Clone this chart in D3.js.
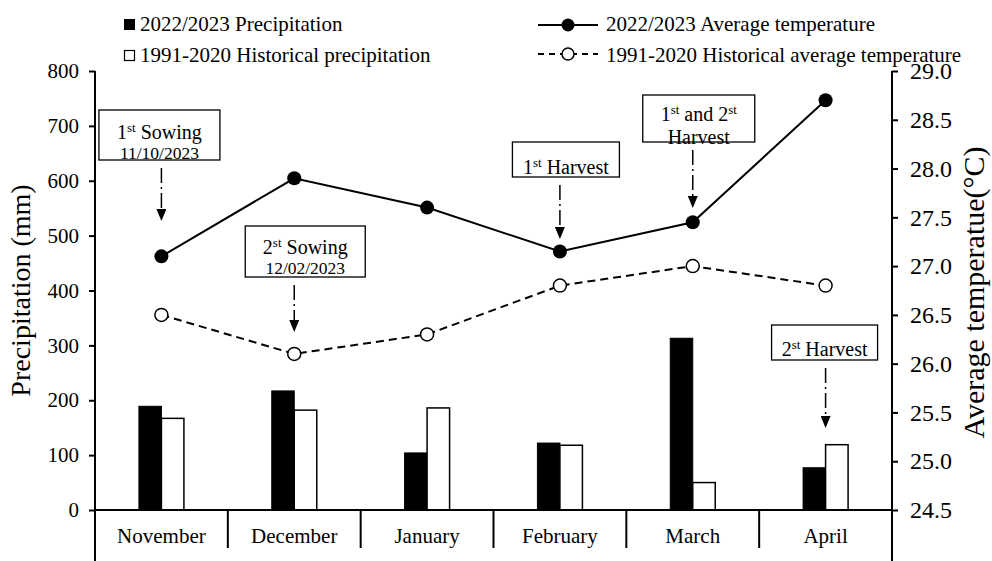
<!DOCTYPE html>
<html>
<head>
<meta charset="utf-8">
<script src="https://cdn.jsdelivr.net/npm/d3@7"></script>
<style>
  body { margin: 0; background: #fff; }
  svg { display: block; font-family: "Liberation Serif", "Times New Roman", serif; }
</style>
</head>
<body>
<div id="chart"></div>
<script>

// data
const months = ["November", "December", "January", "February", "March", "April"];
const precip2223 = [189, 217, 104, 122, 313, 77];
const precipHist = [167, 182, 186, 118, 50, 119];
const temp2223 = [27.1, 27.9, 27.6, 27.15, 27.45, 28.7];
const tempHist = [26.5, 26.1, 26.3, 26.8, 27.0, 26.8];
const precipTicks = [0, 100, 200, 300, 400, 500, 600, 700, 800];
const tempTicks = [24.5, 25.0, 25.5, 26.0, 26.5, 27.0, 27.5, 28.0, 28.5, 29.0];

// annotation boxes (text + month they point at)
const notes = [
  { month: "November", lines: [["1", "st", " Sowing"], ["11/10/2023"]] },
  { month: "December", lines: [["2", "st", " Sowing"], ["12/02/2023"]] },
  { month: "February", lines: [["1", "st", " Harvest"]] },
  { month: "March", lines: [["1", "st", " and 2", "st"], ["Harvest"]] },
  { month: "April", lines: [["2", "st", " Harvest"]] }
];
// box geometry for the notes, same order
const noteBoxes = [
  { dx: -2, w: 121, top: 110, h: 50, base: [22, 42], tip: 221 },
  { dx: 11, w: 120, top: 226, h: 51, base: [21, 41], tip: 332 },
  { dx: 6, w: 107, top: 142, h: 35, base: [25], tip: 239 },
  { dx: 6, w: 112, top: 95, h: 47, base: [19, 42], tip: 208 },
  { dx: -1, w: 106, top: 325, h: 35, base: [24], tip: 428 }
];

const W = 992, H = 561;
const plot = { left: 95, right: 892, top: 71, bottom: 510 };
const FONT = "Liberation Serif, Times New Roman, serif";

const svg = d3.select("#chart").append("svg")
  .attr("width", W)
  .attr("height", H)
  .attr("font-family", FONT);

const x = d3.scaleBand().domain(months).range([plot.left, plot.right]).padding(0);
const bw = x.bandwidth();
const xs = d3.scaleBand().domain(["cur", "hist"]).range([bw / 2 - 22.5, bw / 2 + 22.5]).padding(0);
const yP = d3.scaleLinear().domain([0, 800]).range([plot.bottom, plot.top]);
const yT = d3.scaleLinear().domain([24.5, 29]).range([plot.bottom, plot.top]);
const cx = m => x(m) + bw / 2;

// bars
const barData = months.map((m, i) => ({ m, cur: precip2223[i], hist: precipHist[i] }));
const groups = svg.append("g").selectAll("g").data(barData).enter().append("g")
  .attr("transform", d => `translate(${x(d.m)},0)`);

groups.append("rect")
  .attr("x", xs("cur"))
  .attr("width", xs.bandwidth())
  .attr("y", d => yP(d.cur))
  .attr("height", d => yP(0) - yP(d.cur))
  .attr("fill", "#000")
  .attr("stroke", "#000")
  .attr("stroke-width", 1);

groups.append("rect")
  .attr("x", xs("hist"))
  .attr("width", xs.bandwidth())
  .attr("y", d => yP(d.hist))
  .attr("height", d => yP(0) - yP(d.hist))
  .attr("fill", "#fff")
  .attr("stroke", "#000")
  .attr("stroke-width", 1.5);

// axes
const yAxisL = d3.axisLeft(yP).tickValues(precipTicks).tickSize(6).tickSizeOuter(0).tickPadding(10);
const gL = svg.append("g").attr("transform", `translate(${plot.left},0)`).call(yAxisL);
gL.attr("font-family", FONT);
gL.select(".domain").remove();
gL.selectAll("line").attr("stroke", "#000").attr("stroke-width", 2);
gL.selectAll("text").attr("font-size", 21).attr("fill", "#000");

const yAxisR = d3.axisRight(yT).tickValues(tempTicks).tickFormat(d3.format(".1f")).tickSize(6).tickSizeOuter(0).tickPadding(12);
const gR = svg.append("g").attr("transform", `translate(${plot.right},0)`).call(yAxisR);
gR.attr("font-family", FONT);
gR.select(".domain").remove();
gR.selectAll("line").attr("stroke", "#000").attr("stroke-width", 2);
gR.selectAll("text").attr("font-size", 24).attr("fill", "#000");

svg.append("line").attr("x1", plot.left).attr("x2", plot.left).attr("y1", plot.top).attr("y2", H)
  .attr("stroke", "#000").attr("stroke-width", 2);
svg.append("line").attr("x1", plot.right).attr("x2", plot.right).attr("y1", plot.top).attr("y2", H)
  .attr("stroke", "#000").attr("stroke-width", 2);
svg.append("line").attr("x1", plot.left).attr("x2", plot.right).attr("y1", plot.bottom).attr("y2", plot.bottom)
  .attr("stroke", "#000").attr("stroke-width", 2);

// category separators + labels
svg.append("g").selectAll("line").data(months.slice(1)).enter().append("line")
  .attr("x1", d => x(d)).attr("x2", d => x(d))
  .attr("y1", plot.bottom).attr("y2", 548)
  .attr("stroke", "#000").attr("stroke-width", 2);

svg.append("g").selectAll("text").data(months).enter().append("text")
  .attr("x", d => cx(d))
  .attr("y", 543)
  .attr("text-anchor", "middle")
  .attr("font-size", 21)
  .text(d => d);

// axis titles
svg.append("text")
  .attr("transform", `translate(30,${(plot.top + plot.bottom) / 2}) rotate(-90)`)
  .attr("text-anchor", "middle")
  .attr("font-size", 28)
  .text("Precipitation (mm)");

svg.append("text")
  .attr("transform", `translate(984,${(plot.top + plot.bottom) / 2 + 2}) rotate(-90)`)
  .attr("text-anchor", "middle")
  .attr("font-size", 30)
  .text("Average temperatue(°C)");

// temperature lines
const line = (vals) => d3.line().x((d, i) => cx(months[i])).y(d => yT(d))(vals);

svg.append("path")
  .attr("d", line(tempHist))
  .attr("fill", "none")
  .attr("stroke", "#000")
  .attr("stroke-width", 2)
  .attr("stroke-dasharray", "8,5");

svg.append("path")
  .attr("d", line(temp2223))
  .attr("fill", "none")
  .attr("stroke", "#000")
  .attr("stroke-width", 2);

svg.append("g").selectAll("circle").data(tempHist).enter().append("circle")
  .attr("cx", (d, i) => cx(months[i]))
  .attr("cy", d => yT(d))
  .attr("r", 6.5)
  .attr("fill", "#fff")
  .attr("stroke", "#000")
  .attr("stroke-width", 1.5);

svg.append("g").selectAll("circle").data(temp2223).enter().append("circle")
  .attr("cx", (d, i) => cx(months[i]))
  .attr("cy", d => yT(d))
  .attr("r", 7)
  .attr("fill", "#000");

// arrow head marker
svg.append("defs").append("marker")
  .attr("id", "head")
  .attr("viewBox", "0 0 10 12")
  .attr("refX", 5).attr("refY", 0)
  .attr("markerWidth", 10).attr("markerHeight", 12)
  .attr("markerUnits", "userSpaceOnUse")
  .attr("orient", "0")
  .append("path")
  .attr("d", "M0,0L10,0L5,12Z")
  .attr("fill", "#000");

// annotations
notes.forEach((n, i) => {
  const b = noteBoxes[i];
  const ax = cx(n.month);
  const bx = ax + b.dx - b.w / 2;
  const g = svg.append("g");
  g.append("rect")
    .attr("x", bx).attr("y", b.top)
    .attr("width", b.w).attr("height", b.h)
    .attr("fill", "#fff")
    .attr("stroke", "#000")
    .attr("stroke-width", 1.3);

  n.lines.forEach((parts, j) => {
    const isDate = /\d\d\/\d\d/.test(parts[0]);
    const fs = isDate ? 17.5 : 20;
    const t = g.append("text")
      .attr("x", bx + b.w / 2)
      .attr("y", b.top + b.base[j])
      .attr("text-anchor", "middle")
      .attr("font-size", fs);
    parts.forEach(p => {
      if (p === "st") {
        t.append("tspan").attr("font-size", 13).attr("dy", -7).text(p);
      } else {
        t.append("tspan").attr("dy", t.selectAll("tspan").size() ? 7 : 0).text(p);
      }
    });
  });

  // dash-dot arrow down to the point
  g.append("line")
    .attr("x1", ax).attr("x2", ax)
    .attr("y1", b.top + b.h + 8)
    .attr("y2", b.tip - 12)
    .attr("stroke", "#000")
    .attr("stroke-width", 1.5)
    .attr("stroke-dasharray", "15,4,2,4")
    .attr("marker-end", "url(#head)");
});

// legend
const leg = svg.append("g").attr("font-size", 21);
leg.append("rect").attr("x", 124).attr("y", 19).attr("width", 11).attr("height", 11).attr("fill", "#000");
leg.append("text").attr("x", 140).attr("y", 31).text("2022/2023 Precipitation");
leg.append("rect").attr("x", 124.5).attr("y", 50.5).attr("width", 10).attr("height", 10)
  .attr("fill", "#fff").attr("stroke", "#000").attr("stroke-width", 1.2);
leg.append("text").attr("x", 140).attr("y", 62).text("1991-2020 Historical precipitation");

leg.append("line").attr("x1", 538).attr("x2", 598).attr("y1", 25).attr("y2", 25)
  .attr("stroke", "#000").attr("stroke-width", 2);
leg.append("circle").attr("cx", 568).attr("cy", 25).attr("r", 6.5).attr("fill", "#000");
leg.append("text").attr("x", 606).attr("y", 31).text("2022/2023 Average temperature");

leg.append("line").attr("x1", 538).attr("x2", 598).attr("y1", 54).attr("y2", 54)
  .attr("stroke", "#000").attr("stroke-width", 2).attr("stroke-dasharray", "6,5");
leg.append("circle").attr("cx", 568).attr("cy", 54).attr("r", 6).attr("fill", "#fff")
  .attr("stroke", "#000").attr("stroke-width", 1.5);
leg.append("text").attr("x", 606).attr("y", 62).text("1991-2020 Historical average temperature");

</script>
</body>
</html>
